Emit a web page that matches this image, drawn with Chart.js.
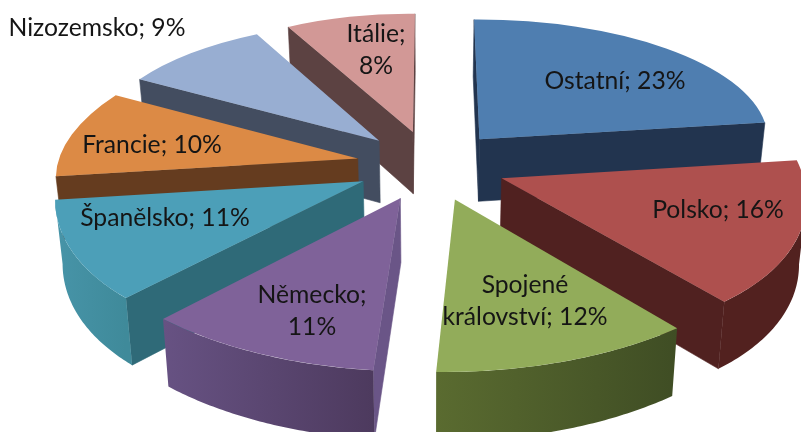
<!DOCTYPE html>
<html>
<head>
<meta charset="utf-8">
<style>html,body{margin:0;padding:0;background:#fff}canvas{display:block;filter:blur(0.4px)}</style>
<script src="https://cdn.jsdelivr.net/npm/chart.js@4"></script>
</head>
<body>
<canvas id="c" width="801" height="432"></canvas>
<script>
// --- data ---
const categories = ["Ostatní", "Polsko", "Spojené království", "Německo", "Španělsko", "Francie", "Nizozemsko", "Itálie"];
const shares = [23, 16, 12, 11, 11, 10, 9, 8];

// --- styles ---
const topColors = ["#4f7eb0", "#ae504e", "#92ac5a", "#7f6299", "#4c9fb8", "#dc8a45", "#98aed2", "#d29896"];
const radialColors = ["#22344f", "#502120", "#4a5a28", "#6a5587", "#2f6a78", "#653c1f", "#434d60", "#5c4242"];
const outerLeft = ["#22344f", "#52211f", "#5a6b30", "#675283", "#4794a8", "#6b4122", "#434d60", "#5c4242"];
const outerRight = ["#22344f", "#52211f", "#3f4d24", "#4d3a5e", "#3f8a9a", "#653c1f", "#434d60", "#5c4242"];
const labelLines = [
  ["Ostatní; 23%"], ["Polsko; 16%"], ["Spojené", "království; 12%"], ["Německo;", "11%"],
  ["Španělsko; 11%"], ["Francie; 10%"], ["Nizozemsko; 9%"], ["Itálie;", "8%"]
];
const labelCentres = [[615, 81], [718, 210], [525, 301], [312, 311], [165, 218], [152, 145], [97, 28], [376, 50]];

// --- view of the tilted pie ---
const view = { cx: 431, cy: 165, R: 300, explode: 75, persp: 0.000426, tilt: 0.47,
               depth: 63, depthGrow: 0.016, shrink: 0.98 };

function project(u, v) {
  const s = 1 / (1 - view.persp * v);
  return { x: view.cx + u * s, y: view.cy + view.tilt * v * s, v };
}
function planePoint(angle, mid, radius) {
  const u = radius * Math.cos(angle) + view.explode * Math.cos(mid);
  const v = radius * Math.sin(angle) + view.explode * Math.sin(mid);
  return project(u, v);
}
function sink(p) {
  return { x: view.cx + (p.x - view.cx) * view.shrink, y: p.y + view.depth + view.depthGrow * p.v };
}
function quad(ctx, a, b, fill) {
  ctx.beginPath();
  ctx.moveTo(a.x, a.y); ctx.lineTo(b.x, b.y);
  const bb = sink(b), aa = sink(a);
  ctx.lineTo(bb.x, bb.y); ctx.lineTo(aa.x, aa.y);
  ctx.closePath();
  ctx.fillStyle = fill; ctx.strokeStyle = fill; ctx.lineWidth = 0.6;
  ctx.fill(); ctx.stroke();
}

const tiltedPie = {
  id: "tiltedPie",
  beforeDatasetsDraw(chart) {
    const ctx = chart.ctx;
    const arcs = chart.getDatasetMeta(0).data;
    const order = arcs.map((arc, i) => i).sort((i, j) => {
      const mi = (arcs[i].startAngle + arcs[i].endAngle) / 2;
      const mj = (arcs[j].startAngle + arcs[j].endAngle) / 2;
      return Math.sin(mi) - Math.sin(mj);
    });
    order.forEach(i => {
      const arc = arcs[i];
      const a1 = arc.startAngle, a2 = arc.endAngle, mid = (a1 + a2) / 2, r = arc.outerRadius;
      const apex = planePoint(0, mid, 0);
      const p1 = planePoint(a1, mid, view.R);
      const p2 = planePoint(a2, mid, view.R);
      // affine map from the library's arc to the tilted slice
      const ax = r * Math.cos(a1), ay = r * Math.sin(a1), bx = r * Math.cos(a2), by = r * Math.sin(a2);
      const det = ax * by - bx * ay;
      const dax = p1.x - apex.x, day = p1.y - apex.y, dbx = p2.x - apex.x, dby = p2.y - apex.y;
      const m = { a: (dax * by - dbx * ay) / det, c: (dbx * ax - dax * bx) / det,
                  b: (day * by - dby * ay) / det, d: (dby * ax - day * bx) / det };
      const onRim = t => {
        const cx = r * Math.cos(t), cy = r * Math.sin(t);
        const x = apex.x + m.a * cx + m.c * cy, y = apex.y + m.b * cx + m.d * cy;
        const v = (y - view.cy) / (view.tilt + view.persp * (y - view.cy));
        return { x, y, v };
      };
      // radial walls
      if (p1.x < apex.x) quad(ctx, apex, p1, radialColors[i]);
      if (apex.x < p2.x) quad(ctx, p2, apex, radialColors[i]);
      // outer wall
      const steps = 60;
      const rim = [];
      for (let k = 0; k <= steps; k++) rim.push(onRim(a1 + (a2 - a1) * k / steps));
      const vis = [];
      for (let k = 0; k < steps; k++) if (rim[k + 1].x < rim[k].x) { vis.push(rim[k]); if (k === steps - 1 || rim[k + 2].x >= rim[k + 1].x) vis.push(rim[k + 1]); }
      if (vis.length > 1) {
        const xs = vis.map(q => q.x);
        const g = ctx.createLinearGradient(Math.min(...xs), 0, Math.max(...xs), 0);
        g.addColorStop(0, outerLeft[i]); g.addColorStop(1, outerRight[i]);
        ctx.beginPath();
        vis.forEach((q, k) => k ? ctx.lineTo(q.x, q.y) : ctx.moveTo(q.x, q.y));
        vis.slice().reverse().forEach(q => { const s = sink(q); ctx.lineTo(s.x, s.y); });
        ctx.closePath();
        ctx.fillStyle = g; ctx.fill();
      }
      // top face: the library's own arc under the map
      ctx.save();
      ctx.translate(apex.x, apex.y);
      ctx.transform(m.a, m.b, m.c, m.d, 0, 0);
      ctx.translate(-arc.x, -arc.y);
      arc.draw(ctx);
      ctx.restore();
    });
    return false;
  },
  afterDraw(chart) {
    const ctx = chart.ctx;
    ctx.save();
    ctx.font = '24.7px Lato';
    ctx.fillStyle = "#151515";
    ctx.textAlign = "center";
    ctx.textBaseline = "middle";
    labelLines.forEach((lines, i) => {
      const [x, y] = labelCentres[i];
      lines.forEach((t, k) => ctx.fillText(t, x, y + (k - (lines.length - 1) / 2) * 32));
    });
    ctx.restore();
  }
};

new Chart(document.getElementById("c"), {
  type: "pie",
  data: { labels: categories, datasets: [{ data: shares, backgroundColor: topColors, borderWidth: 0 }] },
  options: {
    responsive: false, animation: false, events: [],
    plugins: { legend: { display: false }, tooltip: { enabled: false } },
    layout: { padding: 0 }
  },
  plugins: [tiltedPie]
});
</script>
</body>
</html>
